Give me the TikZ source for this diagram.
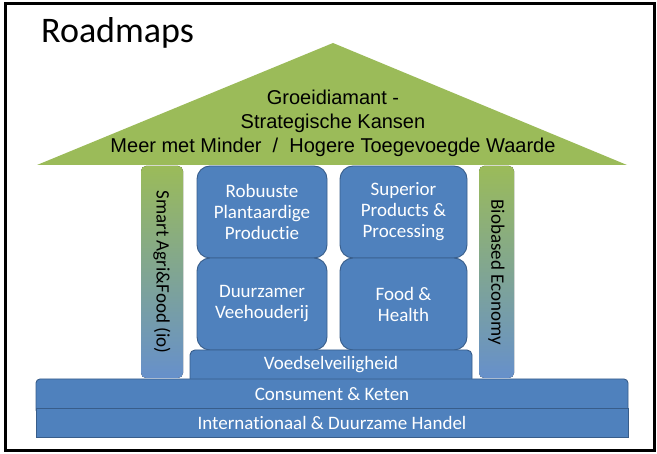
\documentclass[tikz,border=0pt]{standalone}
\usepackage{fontspec}
\setmainfont{Carlito}[Ligatures={NoCommon,NoContextual}]
\newfontfamily\arialfont{Liberation Sans}

\definecolor{roofgreen}{HTML}{9BBB59}
\definecolor{boxblue}{HTML}{4F81BD}
\definecolor{boxline}{HTML}{385D8A}
\definecolor{pillarlight}{HTML}{C6D4EF}
\definecolor{pillarblue}{HTML}{6690CB}

\begin{document}
\begin{tikzpicture}[x=1pt,y=-1pt,
    block/.style={fill=boxblue,draw=boxline,line width=0.9pt},
    blocktext/.style={text=white,font=\fontsize{19}{21}\selectfont,align=center},
    pillar/.style={top color=roofgreen,middle color=pillarlight,bottom color=pillarblue,rounded corners=5pt},
    pillartext/.style={font=\fontsize{19}{21}\selectfont,rotate=-90}]

    % Page size and the frame round the slide
    \useasboundingbox (0,0) rectangle (657,454);
    \draw[line width=3pt] (5.5,3.5) rectangle (654,451);

    % Title
    \node[anchor=base west,font=\fontsize{36}{40}\selectfont,inner sep=0pt] (title) at (41,43) {Roadmaps};

    % The roof
    \coordinate (roofL) at (37,165);
    \coordinate (roofT) at (333,43);
    \coordinate (roofR) at (627,165);
    \fill[roofgreen] (roofL) -- (roofT) -- (roofR) -- cycle;
    \node[font=\arialfont\fontsize{20}{24}\selectfont,align=center] (roof) at (333,123)
        {Groeidiamant -\\Strategische Kansen\\Meer met Minder~~/~~Hogere Toegevoegde Waarde};

    % Side pillars with a green to blue fade
    \fill[pillar] (141,166) rectangle (183,378);
    \node[pillartext] (agri) at (162,272) {Smart Agri\&Food (io)};
    \fill[pillar] (479,166) rectangle (514,378);
    \node[pillartext] (biobased) at (496.5,272) {Biobased Economy};

    % The four inner blocks
    \node[block,blocktext,rounded corners=13pt,minimum width=130pt,minimum height=92pt] (robuuste) at (262,212)
        {Robuuste\\Plantaardige\\Productie};
    \node[block,blocktext,rounded corners=13pt,minimum width=127pt,minimum height=92pt] (superior) at (403.5,212)
        {Superior\\Products \&\\Processing};
    \node[block,blocktext,rounded corners=13pt,minimum width=130pt,minimum height=92pt] (duurzamer) at (262,304)
        {Duurzamer\\Veehouderij};
    \node[block,blocktext,rounded corners=13pt,minimum width=127pt,minimum height=92pt] (food) at (403.5,304)
        {Food \&\\Health};

    % Floor bars, the lower ones drawn over the rounded feet of the upper ones
    \draw[block,rounded corners=5pt] (190,386) rectangle (472,350);
    \node[blocktext] (voedsel) at (331,364.5) {Voedselveiligheid};
    \draw[block,rounded corners=4pt] (36,414) rectangle (628,379);
    \node[blocktext] (consument) at (332,394) {Consument \& Keten};
    \draw[block] (36,408) rectangle (628,437);
    \node[blocktext] (handel) at (332,422.5) {Internationaal \& Duurzame Handel};

\end{tikzpicture}
\end{document}
